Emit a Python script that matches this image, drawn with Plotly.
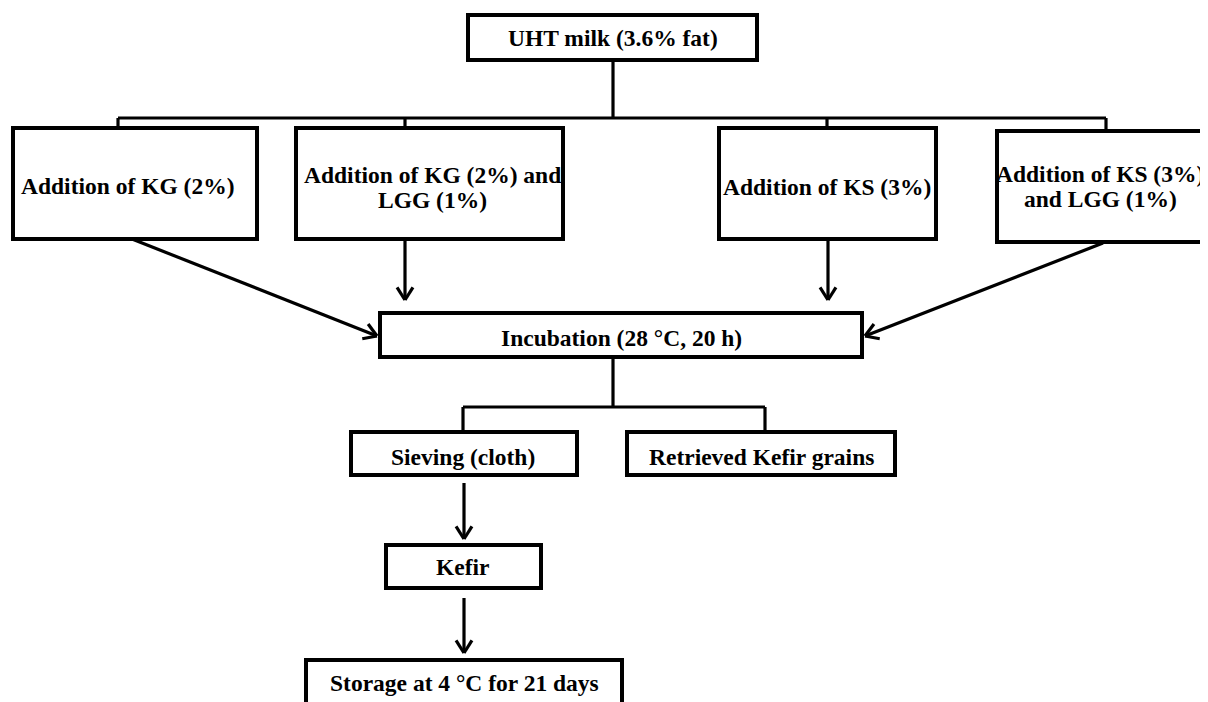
import numpy as np
import plotly.graph_objects as go

# ---- content ----
node_labels = [
    "UHT milk (3.6% fat)",
    "Addition of KG (2%)",
    "Addition of KG (2%) and<br>LGG (1%)",
    "Addition of KS (3%)",
    "Addition of KS (3%)<br>and LGG (1%)",
    "Incubation (28 °C, 20 h)",
    "Sieving (cloth)",
    "Retrieved Kefir grains",
    "Kefir",
    "Storage at 4 °C for 21 days",
]

# ---- layout geometry (pixel-like coordinates, y downward) ----
box_x0 = [468, 13, 296, 719, 997, 380, 351, 627, 386, 306]
box_y0 = [15, 128, 128, 128, 131, 313, 432, 432, 545, 660]
box_x1 = [757, 257, 563, 936, 1214, 862, 577, 895, 541, 622]
box_y1 = [60, 239, 239, 239, 242, 357, 475, 475, 588, 712]
text_x = [613, 127, 432, 827, 1100, 621, 463, 761, 463, 464]
text_y = [38, 186, 187, 187, 186, 338, 457, 457, 567, 683]
line_gap = 25

# plain connector segments (x0, y0, x1, y1)
connectors = [
    (613, 60, 613, 118),
    (118, 118, 1106, 118),
    (118, 118, 118, 128),
    (405, 118, 405, 128),
    (827, 118, 827, 128),
    (1106, 118, 1106, 131),
    (613, 357, 613, 407),
    (463, 407, 765, 407),
    (463, 407, 463, 432),
    (765, 407, 765, 432),
]
# arrows (x0, y0, x1, y1), head at (x1, y1)
arrows = [
    (132, 239, 377, 336),
    (405, 239, 405, 300),
    (828, 239, 828, 300),
    (1103, 243, 865, 336),
    (464, 483, 464, 539),
    (464, 598, 464, 653),
]

W, H = 1208, 702
OFF = 8  # page body margin
fig = go.Figure()

xs, ys = [], []
for x0, y0, x1, y1 in connectors:
    xs += [x0, x1, None]
    ys += [y0, y1, None]

head_len, head_ang = 15, np.deg2rad(32)
for x0, y0, x1, y1 in arrows:
    xs += [x0, x1, None]
    ys += [y0, y1, None]
    d = np.array([x0 - x1, y0 - y1], dtype=float)
    d /= np.linalg.norm(d)
    for s in (1, -1):
        c, sn = np.cos(s * head_ang), np.sin(s * head_ang)
        r = np.array([c * d[0] - sn * d[1], sn * d[0] + c * d[1]])
        xs += [x1 + r[0] * head_len, x1, None]
        ys += [y1 + r[1] * head_len, y1, None]

fig.add_trace(go.Scatter(x=xs, y=ys, mode="lines",
                         line=dict(color="black", width=3.2),
                         hoverinfo="skip", showlegend=False))

shapes = []
annotations = []
for i, lab in enumerate(node_labels):
    shapes.append(dict(type="rect", xref="x", yref="y",
                       x0=box_x0[i], y0=box_y0[i], x1=box_x1[i], y1=box_y1[i],
                       line=dict(color="black", width=4),
                       fillcolor="rgba(0,0,0,0)"))
    lines = lab.split("<br>")
    n = len(lines)
    for k, ln in enumerate(lines):
        yy = text_y[i] + (k - (n - 1) / 2) * line_gap
        annotations.append(dict(x=text_x[i], y=yy, xref="x", yref="y",
                                text="<b>" + ln + "</b>", showarrow=False,
                                font=dict(family="Liberation Serif", size=23.5, color="black"),
                                align="center", xanchor="center", yanchor="middle"))

fig.update_layout(
    width=W, height=H,
    margin=dict(l=0, r=0, t=0, b=0),
    paper_bgcolor="white", plot_bgcolor="white",
    shapes=shapes, annotations=annotations,
    xaxis=dict(range=[OFF, W + OFF], visible=False, fixedrange=True),
    yaxis=dict(range=[H + OFF, OFF], visible=False, fixedrange=True),
    showlegend=False,
)

fig.write_html("out.html")
